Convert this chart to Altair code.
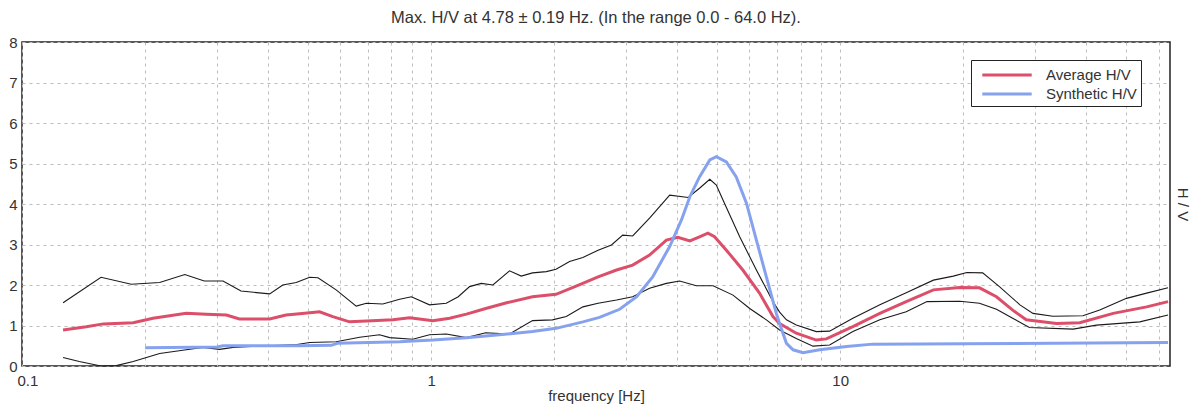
import altair as alt
import pandas as pd

# ---- data ----
up_freq = [0.126, 0.156, 0.185, 0.217, 0.250, 0.279, 0.310, 0.343, 0.403, 0.434, 0.468, 0.505, 0.529,
           0.586, 0.656, 0.695, 0.762, 0.838, 0.895, 0.991, 1.089, 1.165, 1.242, 1.326, 1.416, 1.555,
           1.661, 1.77, 1.913, 2.02, 2.18, 2.35, 2.56, 2.76, 2.94, 3.11, 3.42, 3.83, 4.25, 4.53, 4.80,
           4.98, 5.17, 5.68, 6.24, 6.85, 7.11, 7.39, 7.81, 8.74, 9.42, 10.74, 12.5, 14.5, 16.9, 18.9,
           20.4, 22.3, 24.5, 27.5, 29.6, 33.1, 39.2, 43.1, 50.1, 56.1, 63.3]
up_hv = [1.56, 2.19, 2.02, 2.06, 2.26, 2.10, 2.10, 1.85, 1.78, 2.00, 2.06, 2.19, 2.18,
         1.88, 1.48, 1.55, 1.53, 1.65, 1.71, 1.51, 1.55, 1.71, 1.96, 2.04, 2.00, 2.35,
         2.22, 2.30, 2.33, 2.39, 2.58, 2.68, 2.86, 2.99, 3.23, 3.21, 3.65, 4.22, 4.16, 4.39, 4.61,
         4.47, 4.10, 3.19, 2.37, 1.59, 1.33, 1.14, 1.01, 0.85, 0.86, 1.18, 1.51, 1.81, 2.12, 2.22,
         2.31, 2.30, 1.96, 1.51, 1.30, 1.23, 1.24, 1.38, 1.67, 1.80, 1.93]

lo_freq = [0.126, 0.138, 0.156, 0.170, 0.187, 0.217, 0.252, 0.277, 0.304, 0.328, 0.40, 0.47,
           0.505, 0.586, 0.669, 0.748, 0.792, 0.902, 0.991, 1.089, 1.22, 1.36, 1.555, 1.77, 1.98,
           2.14, 2.35, 2.56, 2.84, 3.11, 3.42, 3.76, 4.05, 4.45, 4.89, 5.47, 6.01, 6.60, 7.11,
           7.81, 8.58, 9.42, 10.74, 12.5, 14.5, 16.3, 19.6, 21.9, 24.1, 26.4, 29.0, 37.1, 42.3,
           54.0, 63.3]
lo_hv = [0.21, 0.11, 0.00, 0.01, 0.11, 0.31, 0.40, 0.46, 0.41, 0.46, 0.50, 0.53,
         0.58, 0.60, 0.71, 0.77, 0.70, 0.66, 0.77, 0.79, 0.70, 0.82, 0.79, 1.12, 1.14,
         1.22, 1.46, 1.55, 1.63, 1.71, 1.92, 2.04, 2.10, 1.98, 1.98, 1.75, 1.42, 1.14, 0.89,
         0.68, 0.49, 0.52, 0.85, 1.14, 1.34, 1.59, 1.60, 1.55, 1.40, 1.18, 0.95, 0.91, 1.01,
         1.09, 1.26]

avg_freq = [0.126, 0.1436, 0.158, 0.187, 0.209, 0.252, 0.282, 0.316, 0.340, 0.403, 0.442, 0.477,
            0.534, 0.575, 0.632, 0.695, 0.807, 0.886, 1.01, 1.11, 1.22, 1.36, 1.53, 1.77, 2.02,
            2.27, 2.56, 2.84, 3.11, 3.42, 3.76, 4.01, 4.29, 4.53, 4.75, 4.93, 5.27, 5.78, 6.35,
            6.85, 7.11, 7.81, 8.74, 9.25, 10.74, 12.5, 14.5, 16.9, 19.6, 21.9, 24.1, 26.4, 28.5,
            33.8, 38.5, 46.5, 56.1, 63.3]
avg_hv = [0.89, 0.97, 1.04, 1.07, 1.18, 1.30, 1.28, 1.26, 1.16, 1.16, 1.26, 1.29,
          1.34, 1.22, 1.09, 1.11, 1.14, 1.19, 1.12, 1.18, 1.28, 1.42, 1.56, 1.71, 1.77,
          1.98, 2.20, 2.37, 2.49, 2.74, 3.11, 3.18, 3.09, 3.19, 3.28, 3.19, 2.86, 2.37, 1.80,
          1.22, 1.05, 0.81, 0.64, 0.67, 0.97, 1.30, 1.59, 1.88, 1.94, 1.93, 1.71, 1.38, 1.14,
          1.05, 1.07, 1.30, 1.46, 1.59]

syn_freq = [0.2, 0.30, 0.31, 0.477, 0.57, 0.59, 0.838, 1.01, 1.22, 1.47, 1.77, 2.02, 2.35, 2.58,
            2.89, 3.18, 3.48, 3.83, 4.09, 4.29, 4.53, 4.80, 4.98, 5.27, 5.57, 5.90, 6.24, 6.60,
            6.98, 7.11, 7.39, 7.67, 8.11, 8.91, 10.36, 12.0, 20.0, 63.3]
syn_hv = [0.45, 0.47, 0.50, 0.50, 0.51, 0.56, 0.60, 0.64, 0.70, 0.77, 0.85, 0.93, 1.09, 1.20,
          1.40, 1.71, 2.20, 2.95, 3.60, 4.18, 4.67, 5.09, 5.17, 5.04, 4.67, 4.02, 3.11, 2.20,
          1.30, 1.05, 0.56, 0.40, 0.33, 0.40, 0.48, 0.54, 0.55, 0.58]

series_names = ["Average H/V", "Synthetic H/V"]
series_colors = ["#dc4f6b", "#86a2ee"]
grid_x = [0.1, 0.2, 0.3, 0.4, 0.5, 0.6, 0.7, 0.8, 0.9, 1, 2, 3, 4, 5, 6, 7, 8, 9, 10, 20, 30, 40, 50, 60]
y_ticks = [0, 1, 2, 3, 4, 5, 6, 7, 8]
title_text = "Max. H/V at 4.78 \u00b1 0.19 Hz. (In the range 0.0 - 64.0 Hz)."

# ---- tables ----
band = pd.concat([
    pd.DataFrame({"f": up_freq, "v": up_hv, "s": "upper"}),
    pd.DataFrame({"f": lo_freq, "v": lo_hv, "s": "lower"}),
])
main = pd.concat([
    pd.DataFrame({"f": avg_freq, "v": avg_hv, "series": series_names[0]}),
    pd.DataFrame({"f": syn_freq, "v": syn_hv, "series": series_names[1]}),
])

FONT = "Liberation Sans"
TXT = "#333333"

x_enc = alt.X(
    "f:Q",
    scale=alt.Scale(type="log", domain=[0.1, 64], nice=False),
    axis=alt.Axis(
        values=grid_x,
        labelExpr="(datum.value == 0.1 || datum.value == 1 || datum.value == 10) ? datum.label : ''",
        format="~g",
        ticks=False, domain=False, grid=True,
        gridDash=[3, 4], gridColor="#bdbdbd", gridWidth=1,
        labelFont=FONT, labelFontSize=15, labelColor=TXT, labelPadding=7,
        labelFlush=True, labelFlushOffset=5,
        title="frequency [Hz]", titleFont=FONT, titleFontSize=15, titleFontWeight="normal",
        titleColor=TXT, titlePadding=0,
    ),
)

black = alt.Chart(band).mark_line(color="#1a1a1a", strokeWidth=1.1).encode(
    x=x_enc,
    y=alt.Y("v:Q", scale=alt.Scale(domain=[0, 8], nice=False),
            axis=alt.Axis(values=y_ticks, orient="left", ticks=False, domain=False, grid=True,
                          gridDash=[3, 4], gridColor="#bdbdbd", gridWidth=1,
                          labelFont=FONT, labelFontSize=15, labelColor=TXT, labelPadding=5,
                          title=None)),
    detail="s:N",
)

lines = alt.Chart(main).mark_line(strokeWidth=3).encode(
    x=x_enc,
    y=alt.Y("v:Q", scale=alt.Scale(domain=[0, 8], nice=False),
            axis=alt.Axis(orient="right", labels=False, ticks=False, domain=False, grid=False,
                          title="H / V", titleAngle=90, titleFont=FONT, titleFontSize=15,
                          titleFontWeight="normal", titleColor=TXT, titlePadding=4)),
    color=alt.Color(
        "series:N",
        scale=alt.Scale(domain=series_names, range=series_colors),
        legend=alt.Legend(
            orient="none", legendX=949, legendY=18, title=None,
            symbolType="M-2.6,0H2.6", symbolStrokeWidth=3, symbolSize=361,
            symbolOffset=21,
            labelFont=FONT, labelFontSize=15, labelColor=TXT, labelOffset=28,
            strokeColor="#222222", fillColor="white", padding=4, rowPadding=0,
        ),
    ),
)

chart = (
    alt.layer(black, lines)
    .resolve_axis(y="independent")
    .properties(
        width=1148, height=324,
        padding={"left": 22, "top": 42, "right": 28, "bottom": 39},
        autosize=alt.AutoSizeParams(type="none"),
        title=alt.TitleParams(title_text, font=FONT, fontSize=16.5, fontWeight="normal",
                              color=TXT, anchor="middle", offset=9),
        background="white",
    )
    .configure_view(stroke="#222222", strokeWidth=1.5)
)

chart.save("out.html", embed_options={"renderer": "svg", "actions": False})
